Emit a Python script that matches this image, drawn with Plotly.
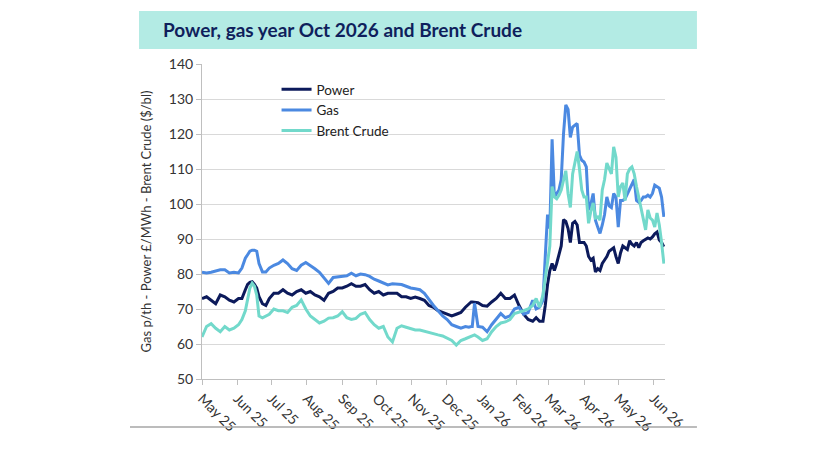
import plotly.graph_objects as go

dates = [
    "2025-05-01","2025-05-05","2025-05-09","2025-05-13","2025-05-17","2025-05-21","2025-05-25","2025-05-29",
    "2025-06-02","2025-06-05","2025-06-08","2025-06-10","2025-06-12","2025-06-14","2025-06-16","2025-06-18","2025-06-20","2025-06-23","2025-06-26","2025-06-29",
    "2025-07-03","2025-07-07","2025-07-11","2025-07-15","2025-07-19","2025-07-23","2025-07-27","2025-07-31",
    "2025-08-04","2025-08-08","2025-08-12","2025-08-16","2025-08-20","2025-08-24","2025-08-28",
    "2025-09-01","2025-09-05","2025-09-09","2025-09-13","2025-09-17","2025-09-21","2025-09-25","2025-09-29",
    "2025-10-03","2025-10-07","2025-10-11","2025-10-15","2025-10-19","2025-10-23","2025-10-27","2025-10-31",
    "2025-11-04","2025-11-08","2025-11-12","2025-11-16","2025-11-20","2025-11-24","2025-11-28",
    "2025-12-02","2025-12-06","2025-12-10","2025-12-14","2025-12-18","2025-12-21","2025-12-23","2025-12-24","2025-12-26","2025-12-29",
    "2026-01-02","2026-01-06","2026-01-10","2026-01-14","2026-01-18","2026-01-22","2026-01-26","2026-01-30",
    "2026-02-03","2026-02-07","2026-02-11","2026-02-15","2026-02-18","2026-02-21","2026-02-24","2026-02-26","2026-02-28",
    "2026-03-02","2026-03-04","2026-03-06","2026-03-08","2026-03-10","2026-03-12","2026-03-14","2026-03-16","2026-03-18","2026-03-20","2026-03-22","2026-03-24","2026-03-26","2026-03-28","2026-03-30",
    "2026-04-01","2026-04-03","2026-04-05","2026-04-07","2026-04-09","2026-04-11","2026-04-13","2026-04-15","2026-04-17","2026-04-19","2026-04-21","2026-04-23","2026-04-25","2026-04-27","2026-04-29",
    "2026-05-01","2026-05-03","2026-05-05","2026-05-07","2026-05-09","2026-05-11","2026-05-13","2026-05-15","2026-05-17","2026-05-19","2026-05-21","2026-05-23","2026-05-25","2026-05-27","2026-05-29","2026-05-31",
    "2026-06-02","2026-06-04","2026-06-06","2026-06-08","2026-06-10",
]

power = [
    73,73.5,72.5,71.5,74,73.5,72.5,72,
    73,73,75.5,77,77.6,77.8,77,76,73.5,71.5,71,73,
    74.5,74.5,75.5,74.5,74,75,75.5,74.5,
    75,74,73.5,72.5,74.5,75,76,
    76,76.5,77.2,76.5,76.5,77,75.5,74.5,
    75,74,74.5,74.5,74.5,73.5,73.5,73,
    73.4,73,72.5,71,70.5,69.5,69,
    68.3,68,68.5,69,70.5,71.5,72,72,72,71.8,
    71,70.8,72,73,74.5,73,73,74,
    71,68.5,67,66.5,67.5,66.5,66.5,71,77,
    81,83,81,83,85.5,88,95.5,95,93,89,94.5,95,94,89,89,
    89,88,85,84,84.5,80.6,81.5,81,83,84,85,86.5,87,87.5,85,
    83,86,88,87.5,87,89.5,88.5,88,89,87.5,89,89.5,90,90.3,90,90.6,
    91.5,92,89.7,89,87.8,
]

gas = [
    80.5,80.3,80.5,80.8,81.2,81.2,80.3,80.5,
    80.3,81.7,84.5,85.5,86.5,86.8,86.8,86.5,83,80.6,80.6,81.7,
    82.5,83,84,83,81.5,81,82.5,83.3,
    82.5,81.5,80.5,79,77.3,79,79.2,
    79.5,79.5,80.2,79.5,80,79.8,79.3,78.5,
    78,77.5,76.9,77.2,77,77,76.5,76,
    75.8,75.5,74.5,72.6,71,69.5,68,
    67,65.5,65,64.5,65,64.8,65,65,71.7,65,
    64.8,63.5,65.5,67,68.7,67.5,68,70,
    70.5,68.5,69,72.5,70,70.5,72.5,85,97,
    93,118.5,102,103,104,107,120,128.3,127,119,122,122.5,123,114,112.5,
    112,110.6,98.3,100,103,95.4,93.4,91.6,94,97,102,99.5,99,103,102,
    93.4,101,101,101.5,103,104,106,107,101,100.5,101,102,102,102.5,102,103,
    105.4,105,104.5,102,96.3,
]

brent = [
    62,65,65.8,64.5,63.5,65,64,64.5,
    65.5,67,69.5,72.5,76,77.4,76.5,74,68,67.5,68,68.5,
    70,69.5,69.5,69,70.5,71,72.6,70,
    68,67,66,66.5,67.4,67.5,68,
    69.2,67.5,67,67.3,68.5,69,67,65.5,
    64.5,65,62,60.6,64.5,65.2,64.8,64.4,
    64,64,63.6,63.3,63,62.6,62.3,
    61.7,61,59.7,61,61.5,62,62.3,62.5,62.6,62,
    61,61.5,63.5,65,66,66.3,67,68.7,
    69,69.5,70,71,73,70.5,74,79,84,
    88,105,102,101.5,102.5,104,107,109.5,103,99,108.6,112,115,110,104,
    102,102,94.5,98,100.3,96,96.3,95.4,104,107,111.7,110,108.6,116.3,113.4,
    102,105,106,101,108.6,110,110.6,108.6,105,102,98.3,96,92.6,98.3,96,95.4,
    93.4,97.4,94,89,83,
]

series_names = ["Power", "Gas", "Brent Crude"]
series_colors = ["#0c1a5b", "#4b89e1", "#72d9cb"]
y_title = "Gas p/th - Power £/MWh - Brent Crude ($/bl)"
chart_title = "Power, gas year Oct 2026 and Brent Crude"

FONT = "Lato, 'Open Sans', sans-serif"

fig = go.Figure()
for name, vals, col in zip(series_names, [power, gas, brent], series_colors):
    fig.add_trace(go.Scatter(x=dates, y=vals, mode="lines", name=name,
                             line=dict(color=col, width=3)))

fig.update_layout(
    width=823, height=460,
    margin=dict(l=202, r=158, t=64, b=81),
    paper_bgcolor="white", plot_bgcolor="white",
    font=dict(family=FONT, color="#333333", size=13),
    showlegend=True,
    legend=dict(x=0.161, y=0.968, xanchor="left", yanchor="top",
                bgcolor="rgba(0,0,0,0)", font=dict(size=13.5, color="#222222"),
                itemwidth=30, tracegroupgap=0),
    xaxis=dict(
        type="date", range=["2025-05-01", "2026-06-11"],
        tick0="2025-05-01", dtick="M1", tickformat="%b %y",
        tickangle=45, ticks="outside", ticklen=5, tickcolor="#bfbfbf",
        showline=True, linecolor="#bfbfbf", linewidth=1,
        showgrid=False, zeroline=False,
        tickfont=dict(size=14, color="#333333"),
    ),
    yaxis=dict(
        range=[50, 140], dtick=10, tick0=50,
        ticks="outside", ticklen=5, tickcolor="#bfbfbf",
        showline=True, linecolor="#bfbfbf", linewidth=1,
        showgrid=True, gridcolor="#d9d9d9", gridwidth=1, zeroline=False,
        tickfont=dict(size=14, color="#333333"),
        title=dict(text=y_title, font=dict(size=13, color="#333333"), standoff=14),
    ),
    shapes=[
        dict(type="rect", xref="paper", yref="paper", x0=-0.136, x1=1.069, y0=1.0476, y1=1.168,
             fillcolor="#b3ebe4", line=dict(width=0), layer="below"),
        dict(type="line", xref="paper", yref="paper", x0=-0.1555, x1=1.069, y0=-0.152, y1=-0.152,
             line=dict(color="#a6a6a6", width=1.5)),
    ],
    annotations=[
        dict(text="<b>" + chart_title + "</b>", xref="paper", yref="paper",
             x=-0.0886, y=1.108, xanchor="left", yanchor="middle", showarrow=False,
             font=dict(family=FONT, size=19, color="#0f1f5c")),
    ],
)

fig.write_html("out.html")
